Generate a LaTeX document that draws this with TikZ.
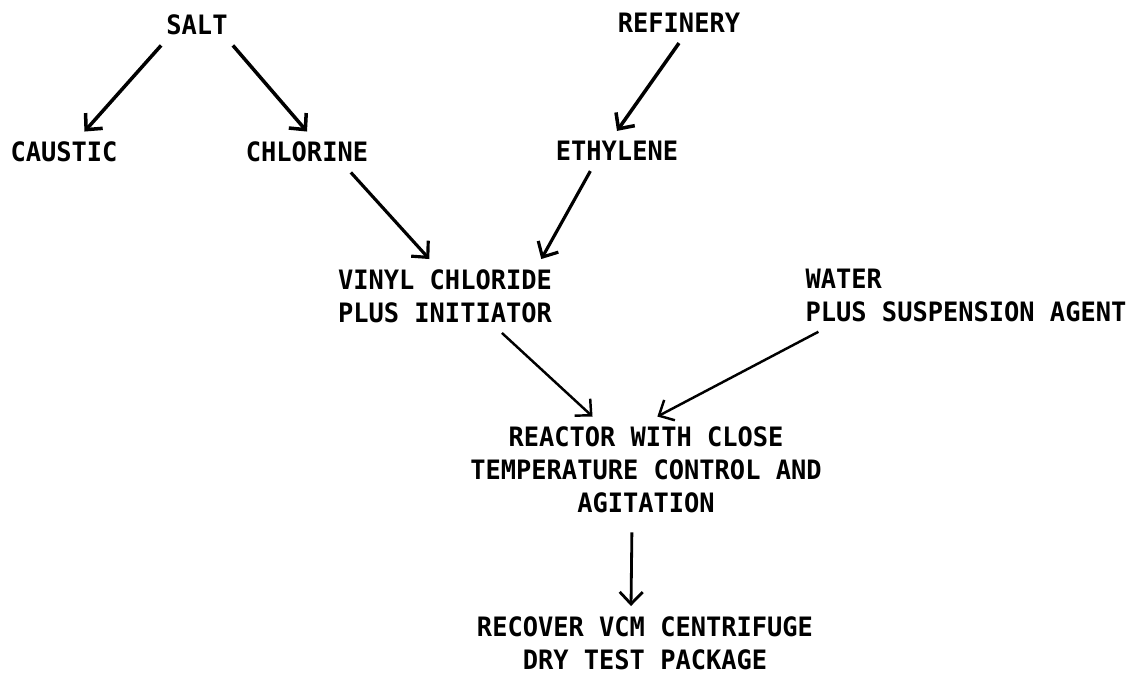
\documentclass[tikz,border=0pt]{standalone}
\usepackage{fontspec}
\setmonofont{DejaVu Sans Mono}[FakeStretch=0.95]
\usetikzlibrary{arrows.meta}

\begin{document}
\begin{tikzpicture}[x=0.02cm,y=-0.02cm,
    >={Straight Barb[length=0.24cm,width=0.46cm]},
    item/.style={font=\ttfamily\bfseries\fontsize{15.2}{18.8}\selectfont,inner xsep=0.1cm,inner ysep=0.2cm},
    flow/.style={->,line width=2pt}]
  \useasboundingbox (0,0) rectangle (1137,675);
  % raw materials
  \node[item] (salt) at (197,25) {SALT};
  \node[item] (refinery) at (679,23) {REFINERY};
  \node[item] (caustic) at (64,152) {CAUSTIC};
  \node[item] (chlorine) at (307,152) {CHLORINE};
  \node[item] (ethylene) at (617,151) {ETHYLENE};
  % charge
  \node[item,align=left] (vinyl) at (445,296) {VINYL CHLORIDE\\PLUS INITIATOR};
  \node[item,align=left] (water) at (966,295) {WATER\\PLUS SUSPENSION AGENT};
  % process
  \node[item,align=center] (reactor) at (646,470) {REACTOR WITH CLOSE\\TEMPERATURE CONTROL AND\\AGITATION};
  \node[item,align=center] (recover) at (645,643) {RECOVER VCM CENTRIFUGE\\DRY TEST PACKAGE};
  % arrows
  \draw[flow] (salt.south west) -- (caustic.45);
  \draw[flow] (salt.south east) -- (chlorine.north);
  \draw[flow] (refinery.south) -- (ethylene.north);
  \draw[flow,line width=1.8pt] (chlorine.-25) -- (vinyl.113);
  \draw[flow,line width=1.8pt] (ethylene.217) -- (vinyl.21);
  \draw[flow,line width=1.4pt] (vinyl.-33) -- (reactor.135);
  \draw[flow,line width=1.4pt] (water.194) -- (reactor.78);
  \draw[flow,line width=1.6pt,shorten <=0.18cm] ([xshift=-0.28cm]reactor.south) -- ([xshift=-0.28cm]recover.north);
\end{tikzpicture}
\end{document}
